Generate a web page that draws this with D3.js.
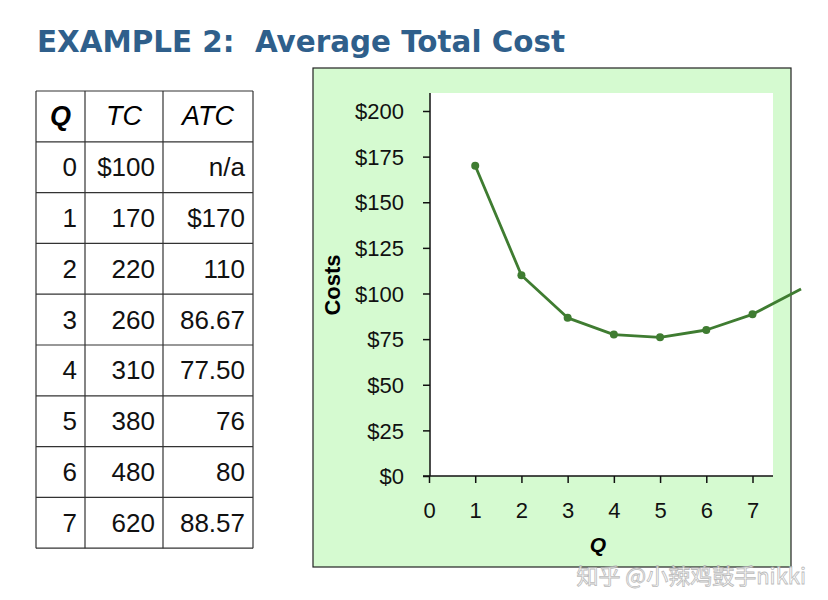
<!DOCTYPE html>
<html>
<head>
<meta charset="utf-8">
<script src="https://cdn.jsdelivr.net/npm/d3@7"></script>
<style>
  body { margin: 0; background: #fff; }
  svg { display: block; }
</style>
</head>
<body>
<div id="plot"></div>
<script>
// Table data
var qValues = [0, 1, 2, 3, 4, 5, 6, 7];
var tcLabels = ["$100", "170", "220", "260", "310", "380", "480", "620"];
var atcLabels = ["n/a", "$170", "110", "86.67", "77.50", "76", "80", "88.57"];

// Curve data (ATC points shown with dots)
var curveQ = [1, 2, 3, 4, 5, 6, 7];
var curveATC = [170, 110, 86.67, 77.5, 76, 80, 88.57];
// the line runs on past the last dot, out of the panel
var tailQ = [7, 8.05];
var tailATC = [88.57, 102.5];

var yTicks = [0, 25, 50, 75, 100, 125, 150, 175, 200];
var xTicks = [0, 1, 2, 3, 4, 5, 6, 7];

var svgWidth = 828;
var svgHeight = 600;

var svg = d3.select("#plot")
  .append("svg")
  .attr("width", svgWidth)
  .attr("height", svgHeight);

// Title
svg.append("text")
  .attr("x", 37)
  .attr("y", 52)
  .attr("font-family", "DejaVu Sans, Verdana, sans-serif")
  .attr("font-weight", "bold")
  .attr("font-size", 31)
  .attr("fill", "#2f5f8b")
  .attr("textLength", 528)
  .attr("lengthAdjust", "spacingAndGlyphs")
  .style("white-space", "pre")
  .text("EXAMPLE 2:  Average Total Cost");

// ---- Table ----
var table = { left: 36, top: 91, rowH: 50.8 };
var colEdges = [36, 85, 163, 253];
var tableGroup = svg.append("g");
var nRows = qValues.length + 1;
var tableBottom = table.top + nRows * table.rowH;

// horizontal lines
d3.range(nRows + 1).forEach(function(i) {
  tableGroup.append("line")
    .attr("x1", colEdges[0]).attr("x2", colEdges[3])
    .attr("y1", table.top + i * table.rowH).attr("y2", table.top + i * table.rowH)
    .attr("stroke", "#333").attr("stroke-width", 1.2);
});
// vertical lines
colEdges.forEach(function(x) {
  tableGroup.append("line")
    .attr("x1", x).attr("x2", x)
    .attr("y1", table.top).attr("y2", tableBottom)
    .attr("stroke", "#333").attr("stroke-width", 1.2);
});

var headers = [
  { text: "Q", weight: "bold" },
  { text: "TC", weight: "normal" },
  { text: "ATC", weight: "normal" }
];
headers.forEach(function(h, i) {
  tableGroup.append("text")
    .attr("x", (colEdges[i] + colEdges[i + 1]) / 2)
    .attr("y", table.top + table.rowH / 2 + 9)
    .attr("text-anchor", "middle")
    .attr("font-family", "Liberation Sans, Arial, sans-serif")
    .attr("font-size", 27)
    .attr("font-style", "italic")
    .attr("font-weight", h.weight)
    .text(h.text);
});

var rows = qValues.map(function(q, i) { return [String(q), tcLabels[i], atcLabels[i]]; });
rows.forEach(function(r, ri) {
  r.forEach(function(cell, ci) {
    tableGroup.append("text")
      .attr("x", colEdges[ci + 1] - 8)
      .attr("y", table.top + (ri + 1) * table.rowH + table.rowH / 2 + 9)
      .attr("text-anchor", "end")
      .attr("font-family", "Liberation Sans, Arial, sans-serif")
      .attr("font-size", 26)
      .attr("fill", "#111")
      .text(cell);
  });
});

// ---- Chart panel ----
svg.append("rect")
  .attr("x", 313).attr("y", 68)
  .attr("width", 478).attr("height", 499)
  .attr("fill", "#d5fad0")
  .attr("stroke", "#222")
  .attr("stroke-width", 1.2);

var plot = { left: 430, top: 93, right: 773, bottom: 476 };

svg.append("rect")
  .attr("x", plot.left).attr("y", plot.top)
  .attr("width", plot.right - plot.left).attr("height", plot.bottom - plot.top)
  .attr("fill", "#fff");

var xScale = d3.scaleLinear()
  .domain([0, 7])
  .range([429, 752.5]);

var yScale = d3.scaleLinear()
  .domain([0, 200])
  .range([476, 111]);

var bottomAxis = d3.axisBottom(xScale)
  .tickValues(xTicks)
  .tickSize(7)
  .tickPadding(19)
  .tickFormat(d3.format("d"));

var leftAxis = d3.axisLeft(yScale)
  .tickValues(yTicks)
  .tickSize(7)
  .tickPadding(19)
  .tickFormat(function(d) { return "$" + d; });

var xAxis = svg.append("g")
  .attr("transform", `translate(0, ${plot.bottom})`)
  .call(bottomAxis);
xAxis.select(".domain").remove();
xAxis.append("line")
  .attr("x1", plot.left - 7).attr("x2", plot.right)
  .attr("stroke", "#111").attr("stroke-width", 1.5);

var yAxis = svg.append("g")
  .attr("transform", `translate(${plot.left}, 0)`)
  .call(leftAxis);
yAxis.select(".domain").remove();
yAxis.append("line")
  .attr("y1", plot.top).attr("y2", plot.bottom)
  .attr("stroke", "#111").attr("stroke-width", 1.5);

[xAxis, yAxis].forEach(function(ax) {
  ax.attr("font-size", 22).attr("font-family", "Liberation Sans, Arial, sans-serif");
  ax.selectAll(".tick line").attr("stroke", "#111").attr("stroke-width", 1.5);
  ax.selectAll(".tick text").attr("fill", "#111");
});
yAxis.selectAll(".tick text").attr("dy", "0.35em");

// axis labels
svg.append("text")
  .attr("transform", "rotate(-90)")
  .attr("x", -285)
  .attr("y", 340)
  .attr("text-anchor", "middle")
  .attr("font-family", "Liberation Sans, Arial, sans-serif")
  .attr("font-weight", "bold")
  .attr("font-size", 22)
  .text("Costs");

svg.append("text")
  .attr("x", 598)
  .attr("y", 552)
  .attr("text-anchor", "middle")
  .attr("font-family", "Liberation Sans, Arial, sans-serif")
  .attr("font-weight", "bold")
  .attr("font-style", "italic")
  .attr("font-size", 21)
  .text("Q");

// ---- ATC curve ----
var line = d3.line()
  .x(d => xScale(d[0]))
  .y(d => yScale(d[1]));

var curveData = curveQ.map(function(q, i) { return [q, curveATC[i]]; });
var tailData = tailQ.map(function(q, i) { return [q, tailATC[i]]; });

svg.append("path")
  .datum(curveData.concat(tailData.slice(1)))
  .attr("d", line)
  .attr("fill", "none")
  .attr("stroke", "#3f7c31")
  .attr("stroke-width", 2.8)
  .attr("stroke-linejoin", "round");

svg.selectAll(".dot")
  .data(curveData)
  .enter()
  .append("circle")
  .attr("class", "dot")
  .attr("cx", d => xScale(d[0]))
  .attr("cy", d => yScale(d[1]))
  .attr("r", 4)
  .attr("fill", "#3f7c31");

// watermark
svg.append("text")
  .attr("x", 806)
  .attr("y", 584)
  .attr("text-anchor", "end")
  .attr("font-family", "Noto Sans CJK SC, sans-serif")
  .attr("font-size", 22)
  .attr("fill", "#ffffff")
  .attr("stroke", "#b0b0b0")
  .attr("stroke-width", 0.8)
  .attr("opacity", 0.85)
  .text("知乎 @小辣鸡鼓手nikki");
</script>
</body>
</html>
